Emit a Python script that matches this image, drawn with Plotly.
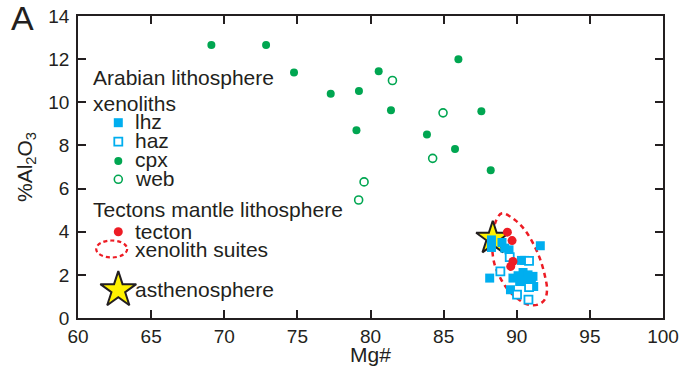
import plotly.graph_objects as go

# ---------------- data ----------------
cpx_mg = [69.12, 72.86, 74.77, 80.56, 86.01, 77.28, 79.21, 81.40, 87.58, 79.04, 83.86, 85.78, 88.22]
cpx_al = [12.65, 12.65, 11.38, 11.44, 11.99, 10.39, 10.52, 9.63, 9.58, 8.70, 8.51, 7.83, 6.85]

web_mg = [81.50, 84.96, 84.25, 79.56, 79.19]
web_al = [11.01, 9.51, 7.40, 6.31, 5.47]

lhz_mg = [88.27, 88.27, 88.99, 89.18, 89.47, 91.61, 90.32, 90.54, 88.15, 89.74,
          90.09, 90.43, 90.77, 91.11, 90.20, 90.61, 91.00, 91.16, 89.57]
lhz_al = [3.62, 3.27, 3.50, 3.24, 3.16, 3.35, 2.67, 2.67, 1.85, 1.85,
          1.96, 2.11, 2.00, 1.93, 1.69, 1.69, 1.69, 1.46, 1.31]

haz_mg = [89.52, 90.84, 88.88, 90.02, 90.80, 90.84]
haz_al = [2.82, 2.65, 2.16, 1.08, 0.85, 1.43]

tecton_mg = [89.36, 89.68, 89.74, 89.59]
tecton_al = [3.98, 3.59, 2.62, 2.39]

asth_mg = [88.36]
asth_al = [3.70]

# outline of the "xenolith suites" field
suite_mg = [88.33, 88.38, 88.61, 88.99, 89.86, 90.54, 91.11, 91.57, 91.91, 92.07,
            91.91, 91.45, 90.77, 90.09, 89.40, 88.88, 88.49, 88.33]
suite_al = [3.16, 3.93, 4.55, 4.86, 4.55, 4.09, 3.47, 2.78, 2.00, 1.31,
            0.85, 0.62, 0.62, 0.88, 1.31, 1.85, 2.47, 3.16]

x_ticks = [60, 65, 70, 75, 80, 85, 90, 95, 100]
y_ticks = [0, 2, 4, 6, 8, 10, 12, 14]

# ---------------- styles ----------------
GREEN = "#00a651"
BLUE = "#00aeef"
RED = "#ed1c24"
YELLOW = "#fff200"
INK = "#231f20"
FONT = "Liberation Sans, Arial, sans-serif"

# plot area in pixels (for placing the hand-made legend)
L, R, T, B = 78, 18, 16, 48
W, H = 681, 366
X0, X1, Y0, Y1 = 60, 100, 0, 14
pw, ph = W - L - R, H - T - B


def dx(px):
    return X0 + (px - L) / pw * (X1 - X0)


def dy(py):
    return Y1 - (py - T) / ph * (Y1 - Y0)


def paper_x(px):
    return (px - L) / pw


def paper_y(py):
    return 1 - (py - T) / ph


fig = go.Figure()

# field outline
fig.add_trace(go.Scatter(x=suite_mg, y=suite_al, mode="lines",
                         line=dict(color=RED, width=2.5, dash="5px,4px", shape="spline"),
                         hoverinfo="skip", showlegend=False))
# asthenosphere star
fig.add_trace(go.Scatter(x=asth_mg, y=asth_al, mode="markers",
                         marker=dict(symbol="star", size=25, color=YELLOW,
                                     line=dict(color=INK, width=2)), showlegend=False))
fig.add_trace(go.Scatter(x=cpx_mg, y=cpx_al, mode="markers",
                         marker=dict(symbol="circle", size=8, color=GREEN, line=dict(width=0)),
                         showlegend=False))
fig.add_trace(go.Scatter(x=web_mg, y=web_al, mode="markers",
                         marker=dict(symbol="circle", size=8, color="white",
                                     line=dict(color=GREEN, width=1.6)), showlegend=False))
fig.add_trace(go.Scatter(x=lhz_mg, y=lhz_al, mode="markers",
                         marker=dict(symbol="square", size=9, color=BLUE, line=dict(width=0)),
                         showlegend=False))
fig.add_trace(go.Scatter(x=haz_mg, y=haz_al, mode="markers",
                         marker=dict(symbol="square", size=8, color="white",
                                     line=dict(color=BLUE, width=1.8)), showlegend=False))
fig.add_trace(go.Scatter(x=tecton_mg, y=tecton_al, mode="markers",
                         marker=dict(symbol="circle", size=9, color=RED, line=dict(width=0)),
                         showlegend=False))

# ---------------- hand-made legend ----------------
sym_x = dx(118.3)
legend_marks = [
    (122.7, dict(symbol="square", size=9, color=BLUE, line=dict(width=0))),
    (141.7, dict(symbol="square", size=8, color="white", line=dict(color=BLUE, width=1.8))),
    (161.0, dict(symbol="circle", size=8, color=GREEN, line=dict(width=0))),
    (179.3, dict(symbol="circle", size=8, color="white", line=dict(color=GREEN, width=1.6))),
    (231.7, dict(symbol="circle", size=9, color=RED, line=dict(width=0))),
    (290.0, dict(symbol="star", size=27, color=YELLOW, line=dict(color=INK, width=2))),
]
for py, mk in legend_marks:
    fig.add_trace(go.Scatter(x=[sym_x], y=[dy(py)], mode="markers", marker=mk,
                             hoverinfo="skip", showlegend=False))

# small dashed ellipse for "xenolith suites"
fig.add_shape(type="circle", xref="x", yref="y",
              x0=dx(96.2), x1=dx(127.2), y0=dy(257.5), y1=dy(240.5),
              line=dict(color=RED, width=2.2, dash="4px,3px"))

LFS = 21
legend_texts = [
    ("Arabian lithosphere", 92, 84.0),
    ("xenoliths", 92, 110.0),
    ("lhz", 134, 128.3),
    ("haz", 134, 147.3),
    ("cpx", 134, 166.0),
    ("web", 134, 185.0),
    ("Tectons mantle lithosphere", 92, 216.7),
    ("tecton", 134, 238.3),
    ("xenolith suites", 134, 256.7),
    ("asthenosphere", 134, 296.0),
]
for txt, px, base in legend_texts:
    fig.add_annotation(x=dx(px), y=dy(base - 0.33 * LFS), xref="x", yref="y",
                       text=txt, showarrow=False, xanchor="left", yanchor="middle",
                       font=dict(family=FONT, size=LFS, color=INK), borderpad=0)

# panel letter
fig.add_annotation(x=paper_x(10), y=paper_y(18), xref="paper", yref="paper",
                   text="A", showarrow=False, xanchor="left", yanchor="middle",
                   font=dict(family=FONT, size=34, color=INK), borderpad=0)

axis_common = dict(showgrid=False, zeroline=False, showline=True, linecolor=INK, linewidth=1.6,
                   mirror="ticks", ticks="inside", ticklen=8, tickwidth=1.6, tickcolor=INK,
                   tickfont=dict(family=FONT, size=19, color=INK), automargin=False)

fig.update_xaxes(range=[X0, X1], tickvals=x_ticks, ticktext=[str(v) for v in x_ticks],
                 title=dict(text="Mg#", font=dict(family=FONT, size=21, color=INK), standoff=0),
                 **axis_common)
fig.update_yaxes(range=[Y0, Y1], tickvals=y_ticks, ticktext=[str(v) for v in y_ticks],
                 ticklabelstandoff=3,
                 title=dict(text="%Al<sub>2</sub>O<sub>3</sub>",
                            font=dict(family=FONT, size=21, color=INK), standoff=10),
                 **axis_common)

fig.update_layout(width=W, height=H, margin=dict(l=L, r=R, t=T, b=B),
                  plot_bgcolor="white", paper_bgcolor="white", showlegend=False)

fig.write_html("out.html")
